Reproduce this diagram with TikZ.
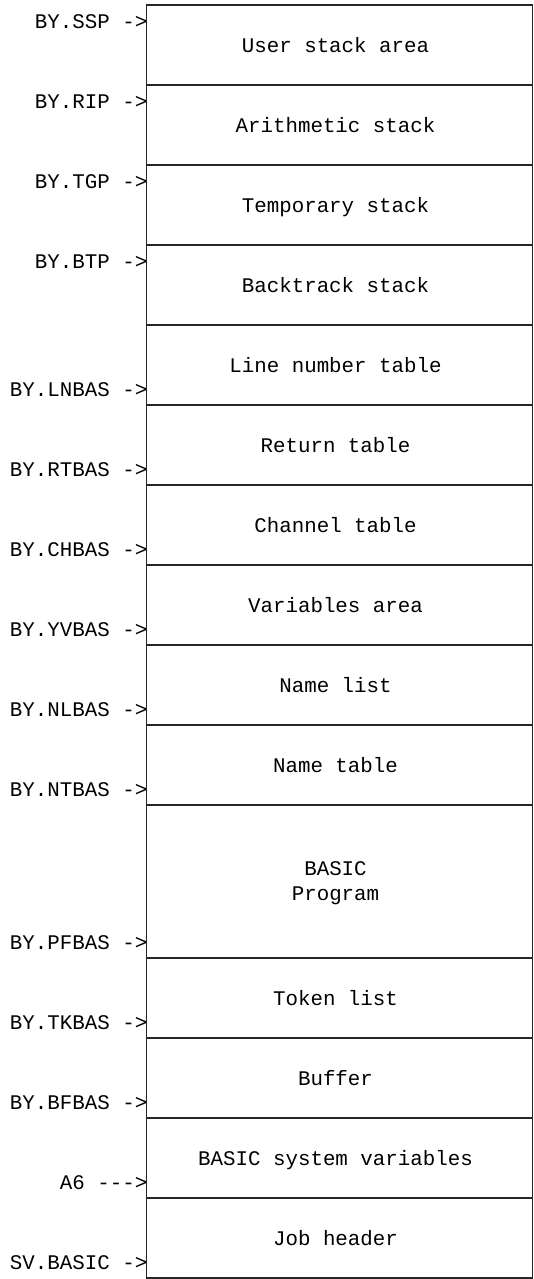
\documentclass[tikz,border=0pt]{standalone}
\usepackage{fontspec}
\setmonofont{Liberation Mono}
\begin{document}
\begin{tikzpicture}[x=1pt,y=-1pt,
  every node/.style={font=\ttfamily\fontsize{20.8}{25}\selectfont, text=black, inner sep=0pt, text height=14.3pt, text depth=0pt},
  row/.style={draw=black!85, line width=1.3pt, minimum width=386pt},
  txt/.style={xshift=-4pt},
  ptr/.style={anchor=east}
]
\useasboundingbox (0,0) rectangle (533,1279);
\def\bx{339.5}
\node[row, minimum height=80pt, label={[txt]center:User stack area}] (r1) at (\bx,45) {};
\node[row, minimum height=80pt, label={[txt]center:Arithmetic stack}] (r2) at (\bx,125) {};
\node[row, minimum height=80pt, label={[txt]center:Temporary stack}] (r3) at (\bx,205) {};
\node[row, minimum height=80pt, label={[txt]center:Backtrack stack}] (r4) at (\bx,285) {};
\node[row, minimum height=80pt, label={[txt]center:Line number table}] (r5) at (\bx,365) {};
\node[row, minimum height=80pt, label={[txt]center:Return table}] (r6) at (\bx,445) {};
\node[row, minimum height=80pt, label={[txt]center:Channel table}] (r7) at (\bx,525) {};
\node[row, minimum height=80pt, label={[txt]center:Variables area}] (r8) at (\bx,605) {};
\node[row, minimum height=80pt, label={[txt]center:Name list}] (r9) at (\bx,685) {};
\node[row, minimum height=80pt, label={[txt]center:Name table}] (r10) at (\bx,765) {};
\node[row, minimum height=153pt] (r11) at (\bx,881.5) {};
\node[txt] (r11a) at (\bx,868.5) {BASIC};
\node[txt] (r11b) at (\bx,893.5) {Program};
\node[row, minimum height=80pt, label={[txt]center:Token list}] (r12) at (\bx,998) {};
\node[row, minimum height=80pt, label={[txt]center:Buffer}] (r13) at (\bx,1078) {};
\node[row, minimum height=80pt, label={[txt]center:BASIC system variables}] (r14) at (\bx,1158) {};
\node[row, minimum height=80pt, label={[txt]center:Job header}] (r15) at (\bx,1238) {};

\def\lx{147.5}
\node[ptr] (p1) at (\lx,21) {BY.SSP ->};
\node[ptr] (p2) at (\lx,101) {BY.RIP ->};
\node[ptr] (p3) at (\lx,181) {BY.TGP ->};
\node[ptr] (p4) at (\lx,261) {BY.BTP ->};
\node[ptr] (p5) at (\lx,389) {BY.LNBAS ->};
\node[ptr] (p6) at (\lx,469) {BY.RTBAS ->};
\node[ptr] (p7) at (\lx,549) {BY.CHBAS ->};
\node[ptr] (p8) at (\lx,629) {BY.YVBAS ->};
\node[ptr] (p9) at (\lx,709) {BY.NLBAS ->};
\node[ptr] (p10) at (\lx,789) {BY.NTBAS ->};
\node[ptr] (p11) at (\lx,942) {BY.PFBAS ->};
\node[ptr] (p12) at (\lx,1022) {BY.TKBAS ->};
\node[ptr] (p13) at (\lx,1102) {BY.BFBAS ->};
\node[ptr] (p14) at (\lx,1182) {A6 -{}-{}->};
\node[ptr] (p15) at (\lx,1262) {SV.BASIC ->};
\end{tikzpicture}
\end{document}
